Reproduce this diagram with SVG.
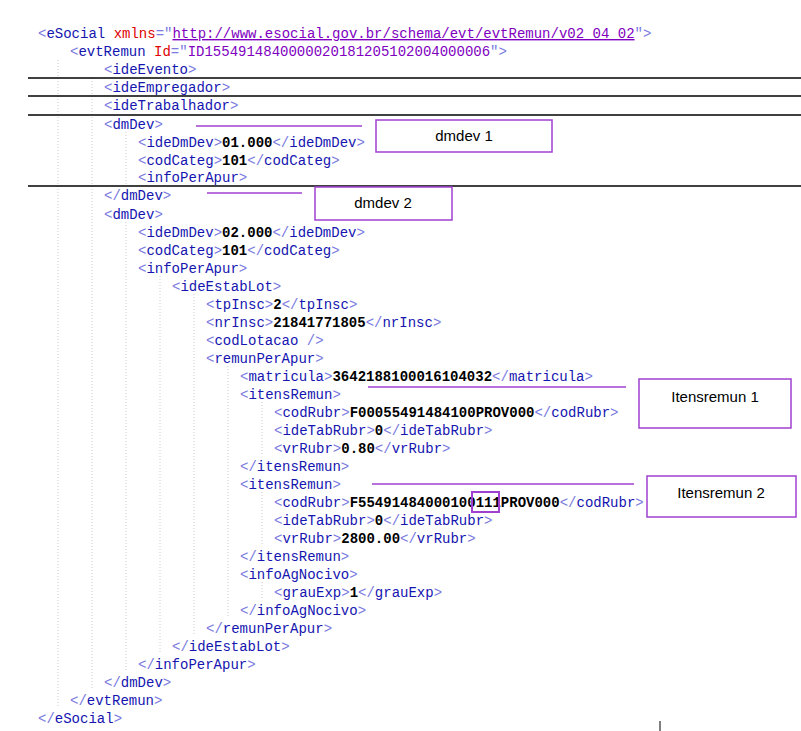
<svg xmlns="http://www.w3.org/2000/svg" width="801" height="731" viewBox="0 0 801 731">
<style>
text{font-family:"Liberation Mono","Courier New",monospace;font-size:14px;fill:#1515b0;white-space:pre}
.b{fill:#7a7ae0}.v{fill:#000;font-weight:bold}.an{fill:#e00000}.av{fill:#8000c0}
.u{text-decoration:underline}
.hl{stroke:#000;stroke-width:1.5}
.pl{stroke:#a040d0;stroke-width:1.5}
.bx{fill:#fff;stroke:#a040d0;stroke-width:1.5}
.lbl{font-family:"Liberation Sans",Arial,sans-serif;font-size:15px;fill:#000}
.g{stroke:#ccc;stroke-width:1;stroke-dasharray:1 2}
</style>
<rect width="801" height="731" fill="#fff"/>
<g id="guides">
<line class="g" x1="58" y1="60" x2="58" y2="708"/>
<line class="g" x1="92" y1="78" x2="92" y2="690"/>
<line class="g" x1="126" y1="132" x2="126" y2="186"/>
<line class="g" x1="126" y1="222" x2="126" y2="672"/>
<line class="g" x1="160" y1="276" x2="160" y2="654"/>
<line class="g" x1="194" y1="294" x2="194" y2="636"/>
<line class="g" x1="228" y1="366" x2="228" y2="618"/>
<line class="g" x1="262" y1="402" x2="262" y2="456"/>
<line class="g" x1="262" y1="492" x2="262" y2="546"/>
<line class="g" x1="262" y1="582" x2="262" y2="600"/>
</g>
<g id="code">
<text x="38" y="38"><tspan class="b">&lt;</tspan>eSocial <tspan class="an">xmlns</tspan><tspan class="b">="</tspan><tspan class="av u">http://www.esocial.gov.br/schema/evt/evtRemun/v02_04_02</tspan><tspan class="b">"&gt;</tspan></text>
<text x="70" y="56"><tspan class="b">&lt;</tspan>evtRemun <tspan class="an">Id</tspan><tspan class="b">="</tspan><tspan class="av">ID1554914840000020181205102004000006</tspan><tspan class="b">"&gt;</tspan></text>
<text x="104" y="74"><tspan class="b">&lt;</tspan>ideEvento<tspan class="b">&gt;</tspan></text>
<text x="104" y="92"><tspan class="b">&lt;</tspan>ideEmpregador<tspan class="b">&gt;</tspan></text>
<text x="104" y="110"><tspan class="b">&lt;</tspan>ideTrabalhador<tspan class="b">&gt;</tspan></text>
<text x="104" y="129"><tspan class="b">&lt;</tspan>dmDev<tspan class="b">&gt;</tspan></text>
<text x="138" y="147"><tspan class="b">&lt;</tspan>ideDmDev<tspan class="b">&gt;</tspan><tspan class="v">01.000</tspan><tspan class="b">&lt;/</tspan>ideDmDev<tspan class="b">&gt;</tspan></text>
<text x="138" y="165"><tspan class="b">&lt;</tspan>codCateg<tspan class="b">&gt;</tspan><tspan class="v">101</tspan><tspan class="b">&lt;/</tspan>codCateg<tspan class="b">&gt;</tspan></text>
<text x="138" y="182"><tspan class="b">&lt;</tspan>infoPerApur<tspan class="b">&gt;</tspan></text>
<text x="104" y="200"><tspan class="b">&lt;/</tspan>dmDev<tspan class="b">&gt;</tspan></text>
<text x="104" y="219"><tspan class="b">&lt;</tspan>dmDev<tspan class="b">&gt;</tspan></text>
<text x="138" y="237"><tspan class="b">&lt;</tspan>ideDmDev<tspan class="b">&gt;</tspan><tspan class="v">02.000</tspan><tspan class="b">&lt;/</tspan>ideDmDev<tspan class="b">&gt;</tspan></text>
<text x="138" y="255"><tspan class="b">&lt;</tspan>codCateg<tspan class="b">&gt;</tspan><tspan class="v">101</tspan><tspan class="b">&lt;/</tspan>codCateg<tspan class="b">&gt;</tspan></text>
<text x="138" y="273"><tspan class="b">&lt;</tspan>infoPerApur<tspan class="b">&gt;</tspan></text>
<text x="172" y="291"><tspan class="b">&lt;</tspan>ideEstabLot<tspan class="b">&gt;</tspan></text>
<text x="206" y="309"><tspan class="b">&lt;</tspan>tpInsc<tspan class="b">&gt;</tspan><tspan class="v">2</tspan><tspan class="b">&lt;/</tspan>tpInsc<tspan class="b">&gt;</tspan></text>
<text x="206" y="327"><tspan class="b">&lt;</tspan>nrInsc<tspan class="b">&gt;</tspan><tspan class="v">21841771805</tspan><tspan class="b">&lt;/</tspan>nrInsc<tspan class="b">&gt;</tspan></text>
<text x="206" y="345"><tspan class="b">&lt;</tspan>codLotacao <tspan class="b">/&gt;</tspan></text>
<text x="206" y="363"><tspan class="b">&lt;</tspan>remunPerApur<tspan class="b">&gt;</tspan></text>
<text x="240" y="381"><tspan class="b">&lt;</tspan>matricula<tspan class="b">&gt;</tspan><tspan class="v">3642188100016104032</tspan><tspan class="b">&lt;/</tspan>matricula<tspan class="b">&gt;</tspan></text>
<text x="240" y="399"><tspan class="b">&lt;</tspan>itensRemun<tspan class="b">&gt;</tspan></text>
<text x="274" y="417"><tspan class="b">&lt;</tspan>codRubr<tspan class="b">&gt;</tspan><tspan class="v">F00055491484100PROV000</tspan><tspan class="b">&lt;/</tspan>codRubr<tspan class="b">&gt;</tspan></text>
<text x="274" y="435"><tspan class="b">&lt;</tspan>ideTabRubr<tspan class="b">&gt;</tspan><tspan class="v">0</tspan><tspan class="b">&lt;/</tspan>ideTabRubr<tspan class="b">&gt;</tspan></text>
<text x="274" y="453"><tspan class="b">&lt;</tspan>vrRubr<tspan class="b">&gt;</tspan><tspan class="v">0.80</tspan><tspan class="b">&lt;/</tspan>vrRubr<tspan class="b">&gt;</tspan></text>
<text x="240" y="471"><tspan class="b">&lt;/</tspan>itensRemun<tspan class="b">&gt;</tspan></text>
<text x="240" y="489"><tspan class="b">&lt;</tspan>itensRemun<tspan class="b">&gt;</tspan></text>
<text x="274" y="507"><tspan class="b">&lt;</tspan>codRubr<tspan class="b">&gt;</tspan><tspan class="v">F55491484000100111PROV000</tspan><tspan class="b">&lt;/</tspan>codRubr<tspan class="b">&gt;</tspan></text>
<text x="274" y="525"><tspan class="b">&lt;</tspan>ideTabRubr<tspan class="b">&gt;</tspan><tspan class="v">0</tspan><tspan class="b">&lt;/</tspan>ideTabRubr<tspan class="b">&gt;</tspan></text>
<text x="274" y="543"><tspan class="b">&lt;</tspan>vrRubr<tspan class="b">&gt;</tspan><tspan class="v">2800.00</tspan><tspan class="b">&lt;/</tspan>vrRubr<tspan class="b">&gt;</tspan></text>
<text x="240" y="561"><tspan class="b">&lt;/</tspan>itensRemun<tspan class="b">&gt;</tspan></text>
<text x="240" y="579"><tspan class="b">&lt;</tspan>infoAgNocivo<tspan class="b">&gt;</tspan></text>
<text x="274" y="597"><tspan class="b">&lt;</tspan>grauExp<tspan class="b">&gt;</tspan><tspan class="v">1</tspan><tspan class="b">&lt;/</tspan>grauExp<tspan class="b">&gt;</tspan></text>
<text x="240" y="615"><tspan class="b">&lt;/</tspan>infoAgNocivo<tspan class="b">&gt;</tspan></text>
<text x="206" y="633"><tspan class="b">&lt;/</tspan>remunPerApur<tspan class="b">&gt;</tspan></text>
<text x="172" y="651"><tspan class="b">&lt;/</tspan>ideEstabLot<tspan class="b">&gt;</tspan></text>
<text x="138" y="669"><tspan class="b">&lt;/</tspan>infoPerApur<tspan class="b">&gt;</tspan></text>
<text x="104" y="687"><tspan class="b">&lt;/</tspan>dmDev<tspan class="b">&gt;</tspan></text>
<text x="70" y="705"><tspan class="b">&lt;/</tspan>evtRemun<tspan class="b">&gt;</tspan></text>
<text x="38" y="723"><tspan class="b">&lt;/</tspan>eSocial<tspan class="b">&gt;</tspan></text>
</g>
<g id="separators">
<line class="hl" x1="28" y1="78" x2="801" y2="78"/>
<line class="hl" x1="28" y1="96" x2="801" y2="96"/>
<line class="hl" x1="28" y1="115" x2="801" y2="115"/>
<line class="hl" x1="28" y1="186" x2="801" y2="186"/>
</g>
<g id="connectors">
<line class="pl" x1="196" y1="126" x2="362" y2="126"/>
<line class="pl" x1="207" y1="193" x2="302" y2="193"/>
<line class="pl" x1="368" y1="387" x2="626" y2="387"/>
<line class="pl" x1="372" y1="484" x2="634" y2="484"/>
</g>
<g id="dmdev1"><rect class="bx" x="376" y="120" width="176" height="32"/><text class="lbl" x="464" y="141" text-anchor="middle">dmdev 1</text></g>
<g id="dmdev2"><rect class="bx" x="315" y="187" width="137" height="33"/><text class="lbl" x="383" y="208" text-anchor="middle">dmdev 2</text></g>
<g id="itensremun1"><rect class="bx" x="639" y="379" width="152" height="49"/><text class="lbl" x="715" y="402" text-anchor="middle">Itensremun 1</text></g>
<g id="itensremun2"><rect class="bx" x="647" y="476" width="149" height="41"/><text class="lbl" x="721" y="498" text-anchor="middle">Itensremun 2</text></g>
<g id="highlight111"><rect x="472" y="492" width="27" height="20" fill="none" stroke="#a040d0" stroke-width="2"/></g>
<line x1="660" y1="721" x2="660" y2="731" stroke="#000" stroke-width="1"/>
</svg>
